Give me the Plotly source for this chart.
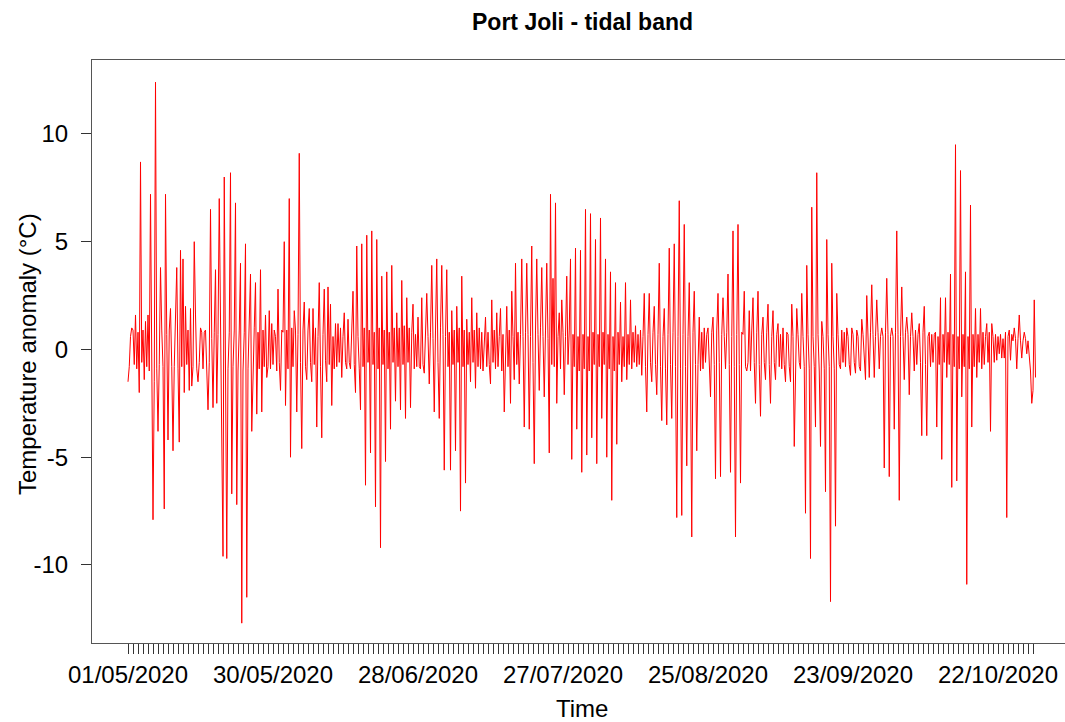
import pandas as pd
import plotly.graph_objects as go

# Tidal-band temperature anomaly (deg C), 6-hourly values
may = [
    -1.5, -0.8, 0.6, 1.0,   0.9, -0.7, 1.6, -0.9,   0.8, -2.0, 8.7, -0.6,   0.9, -1.4, 1.3, -0.8,
    1.6, -1.0, 7.2, -0.9,   -7.9, -1.5, 12.4, -0.9,  -3.8, -0.7, 3.8, 0.9,  -0.8, -7.4, 7.2, 0.7,
    -4.2, 0.9, 1.9, -0.8,   -4.7, -0.8, 1.0, 3.8,   -0.9, -4.3, 4.6, -0.8,  4.2, -2.0, 2.0, -0.7,
    0.9, -1.9, 1.9, -1.7,   -0.8, 5.0, 1.6, -0.9,   -1.5, -0.6, 1.0, 0.8,   -0.9, 0.8, 0.9, -1.0,
    -2.8, -0.6, 6.5, 0.5,   -2.7, 0.8, 3.7, -2.5,   0.7, 7.0, 0.9, -1.8,    -9.6, 8.0, 0.7, -9.7,
    -0.9, 0.8, 8.2, -6.7,   -0.8, 0.9, 6.8, -7.2,   -1.0, 0.9, 4.0, -12.7,  -1.0, 0.8, 4.9, -11.5,
    -0.9, 0.9, 3.5, -3.8,   -0.8, 1.0, 3.1, -3.0,   0.8, -0.9, 3.7, -2.9,   0.9, -0.8, 1.6, -1.3,
    -0.8, 1.8, -0.9, 1.2,   -0.7, 0.9, 0.6, -1.0,   2.8, -0.6, -1.9, 0.9,
]
jun = [
    0.8, 5.0, -2.6, 0.9,    -0.9, 7.0, -5.0, 1.0,   -0.8, 1.8, 0.9, -2.9,   0.7, 9.1, -0.6, -4.6,
    0.9, 2.2, -0.8, -1.4,   0.9, 1.9, -0.6, -1.5,   1.9, -0.7, 1.0, -3.6,   0.6, 3.1, -0.8, -4.1,
    0.7, 2.8, -0.5, -1.5,   2.9, -0.7, 2.1, -2.6,   0.6, -0.9, 1.2, -0.8,   1.2, -0.6, 1.0, -1.3,
    0.6, 1.7, -0.6, -0.9,   1.4, -0.6, -0.9, 0.9,   2.7, -0.7, -2.0, 4.8,   0.6, -0.9, -2.8, 4.9,
    -0.8, 1.0, -6.3, 5.3,   -0.6, 0.9, -4.8, 5.5,   -0.7, 0.8, -7.3, 5.1,   -0.9, 1.0, -9.2, 3.4,
    -0.7, 0.9, -5.2, 3.6,   -0.9, 0.8, -3.7, 3.9,   -0.6, 1.0, -2.4, 1.7,   -0.8, 1.0, -2.8, 3.2,
    -0.7, 1.1, -3.2, 2.4,   -0.6, 1.0, -2.7, 0.8,   2.1, -0.9, 0.7, -0.8,   1.5, -0.8, -0.9, 2.4,
    -0.7, -1.1, 0.9, 2.6,   0.6, -1.6, 0.8, 3.9,
]
jul = [
    0.5, -2.9, 0.9, 4.2,    -0.6, -3.2, 1.0, 3.9,   0.7, -5.6, 0.6, 3.7,    -0.8, 0.8, -5.6, 1.8,
    -0.7, 0.9, -4.7, 2.0,   -0.6, 1.0, -7.5, 3.4,   -0.8, 0.9, -6.2, 1.4,   -0.7, 0.8, -1.5, 2.4,
    -0.6, 0.9, -1.8, 1.7,   -0.8, 1.0, -0.9, 0.8,   -1.0, 0.7, 1.5, -0.8,   0.8, -0.7, -1.6, 2.3,
    -0.6, 0.9, -0.9, 1.7,   -0.8, 0.6, 1.9, -1.0,   0.7, -2.9, 0.6, 2.0,    -0.8, 0.9, -2.5, 2.7,
    0.6, -1.4, 4.0, -0.7,   0.8, -1.6, 0.7, 4.2,    0.6, -3.6, 0.8, 4.0,    0.7, -3.7, 0.6, 4.8,
    -0.6, -5.3, 0.9, 4.2,   0.7, -1.9, 1.0, 3.8,    0.6, -2.2, 0.9, 4.0,    0.5, -4.8, 7.2, -0.7,
    3.3, -0.8, 6.8, -2.5,   0.6, 1.7, -0.9, 2.3,    0.8, -2.1, 0.6, 3.4,    -0.7, 0.9, 4.2, -5.1,
    0.7, -0.8, 4.7, -3.7,   0.6, -1.0, 4.6, -5.7,   0.7, -0.9, 6.5, -4.9,
]
aug = [
    0.6, -1.0, 6.3, -4.1,   0.8, -0.7, 5.1, -5.3,   0.7, -0.8, 6.1, -3.2,   0.8, -0.7, 4.2, -5.0,
    0.7, -0.9, 3.6, -7.0,   0.6, -1.0, 3.1, -4.4,   0.8, -0.7, 2.2, -1.5,   0.6, -0.8, 3.1, -1.4,
    0.7, -0.7, 2.3, -0.9,   0.8, -0.6, 1.1, -0.8,   0.7, -0.7, 0.9, -1.2,   0.6, 2.6, -0.8, -2.9,
    0.7, 2.6, -0.6, -1.5,   0.8, 2.0, -0.7, -2.1,   0.7, 4.0, -0.8, -3.3,   0.6, 1.9, -0.9, -3.5,
    0.7, 4.7, -0.7, -3.2,   0.8, 4.9, -0.8, -7.8,   0.6, 6.9, -0.9, -7.7,   0.7, 5.8, -0.8, -5.4,
    0.6, 3.1, -1.0, -8.7,   0.8, 2.7, -0.7, -4.7,   -0.7, 1.5, -1.0, 0.8,   -0.9, 1.0, -0.6, 0.7,
    1.0, -0.7, -2.2, 0.8,   1.5, -0.7, -6.0, 0.9,   2.6, -0.6, -5.9, 0.7,   2.4, 0.6, -0.9, 0.8,
    3.5, -0.7, -5.7, 0.6,   5.5, -0.8, -8.7, 0.7,   5.8, -0.7, -6.2, 0.8,
]
sep = [
    0.7, 2.7, -0.8, -1.0,   -0.6, 1.8, -1.0, 0.9,   2.4, -0.6, -2.5, 0.8,   2.7, -0.7, -3.1, 0.7,
    1.5, -0.6, -1.4, 0.8,   2.1, -0.7, -2.5, 0.6,   1.8, -0.6, -1.4, 0.7,   1.2, -0.8, 0.7, -0.9,
    1.0, -0.7, -1.5, 0.8,   0.7, -0.8, -1.5, 2.1,   0.6, -4.5, -0.7, 1.9,   0.7, -0.6, -0.9, 2.6,
    0.6, -0.8, -7.6, 3.9,   0.7, -0.9, -9.7, 6.6,   0.6, -0.8, -3.6, 8.2,   0.7, -1.0, -4.5, 1.3,
    0.6, -0.9, -6.6, 5.1,   0.7, -0.8, -11.7, 4.0,  0.6, -0.9, -8.2, 2.6,   0.7, -0.7, -0.9, 0.9,
    -0.6, 0.8, -0.8, 1.0,   0.6, -0.7, -1.2, 1.0,   0.7, -0.6, -1.1, 0.9,   0.6, -0.8, -1.0, 1.4,
    0.7, -0.6, -1.4, 2.5,   0.6, -1.3, 0.8, 3.0,    0.7, -1.3, 0.6, 2.3,    0.8, -0.9, 0.6, 1.0,
    0.6, -5.5, 0.8, 3.3,    0.7, -5.9, 0.6, 1.0,
]
oct_ = [
    0.6, -3.7, 0.8, 5.5,    0.7, -7.0, 0.6, 2.9,    0.6, -1.4, 0.8, 1.5,    0.7, -2.1, 0.6, 1.7,
    0.6, -1.0, 0.9, -0.7,   0.7, 1.2, -0.6, -4.0,   0.8, 2.0, -0.7, -4.0,   0.6, 0.8, -0.8, 0.7,
    -0.6, 0.7, 0.8, -3.6,   0.6, -0.7, 2.4, -5.1,   0.7, -0.6, 2.4, -1.3,   0.8, -0.7, 3.5, -6.4,
    0.7, -0.8, 9.5, -6.1,   0.6, -0.9, 8.3, -2.2,   0.7, -0.8, 3.6, -10.9,  0.6, -0.9, 6.7, -3.6,
    0.7, -0.8, 1.9, -1.3,   0.7, -0.6, 1.9, -0.9,   0.8, -0.7, 0.6, 1.2,    -0.6, 0.8, -3.8, 1.2,
    0.6, -0.6, 0.7, -0.5,   0.6, -0.2, 0.7, -0.4,   0.5, -0.4, 0.8, -7.8,   0.6, 0.9, -0.5, 0.7,
    0.4, 1.0, 0.5, -0.9,    0.5, 1.6, 0.4, -0.4,    0.4, 0.8, 0.5, -0.2,    0.4, -0.5, -1.0, -2.5,
    -1.9, 2.3, -1.3,
]

tick_labels = ["01/05/2020", "30/05/2020", "28/06/2020", "27/07/2020",
               "25/08/2020", "23/09/2020", "22/10/2020"]
y_ticks = [-10, -5, 0, 5, 10]
y_tick_text = ["-10", "-5", "0", "5", "10"]

values = may + jun + jul + aug + sep + oct_
times = pd.date_range("2020-05-01", periods=len(values), freq="6h")

tick_days = pd.date_range("2020-05-01", "2020-10-29", freq="D")
tick_text = [d.strftime("%d/%m/%Y") if d.strftime("%d/%m/%Y") in tick_labels else ""
             for d in tick_days]

# axis range: 5 px per day, plot area from 92 px to 1065 px
start = pd.Timestamp("2020-05-01") - pd.Timedelta(days=36 / 5)
end = start + pd.Timedelta(days=973 / 5)

FONT = "Liberation Sans, Arial, sans-serif"

fig = go.Figure()
fig.add_trace(go.Scatter(x=times, y=values, mode="lines",
                         line=dict(color="#ff0000", width=1),
                         hoverinfo="skip", showlegend=False))

fig.update_layout(
    width=1065, height=722,
    margin=dict(l=92, r=0, t=60, b=79, pad=0),
    paper_bgcolor="white", plot_bgcolor="white",
    font=dict(family=FONT, size=24, color="black"),
    xaxis=dict(type="date", range=[start, end],
               tickmode="array", tickvals=list(tick_days), ticktext=tick_text,
               ticks="outside", ticklen=10, tickwidth=1, tickcolor="#333333",
               showline=True, linecolor="#555555", linewidth=1, mirror=True,
               showgrid=False, zeroline=False, tickangle=0,
               tickfont=dict(family=FONT, size=24, color="black")),
    yaxis=dict(range=[-13.62, 13.43], tickmode="array",
               tickvals=y_ticks, ticktext=y_tick_text,
               ticks="outside", ticklen=10, tickwidth=1, tickcolor="#333333",
               showline=True, linecolor="#555555", linewidth=1, mirror=False,
               showgrid=False, zeroline=False, ticklabelstandoff=8,
               tickfont=dict(family=FONT, size=24, color="black")),
    annotations=[
        dict(text="<b>Port Joli - tidal band</b>", xref="paper", yref="paper",
             x=0.5036, y=1.065, xanchor="center", yanchor="middle",
             showarrow=False, font=dict(family=FONT, size=23, color="black")),
        dict(text="Time", xref="paper", yref="paper",
             x=0.5036, y=-0.1115, xanchor="center", yanchor="middle",
             showarrow=False, font=dict(family=FONT, size=24, color="black")),
        dict(text="Temperature anomaly (°C)", xref="paper", yref="paper",
             x=-0.0668, y=0.4957, xanchor="center", yanchor="middle", textangle=-90,
             showarrow=False, font=dict(family=FONT, size=24, color="black")),
    ],
)

fig.write_html("out.html")
